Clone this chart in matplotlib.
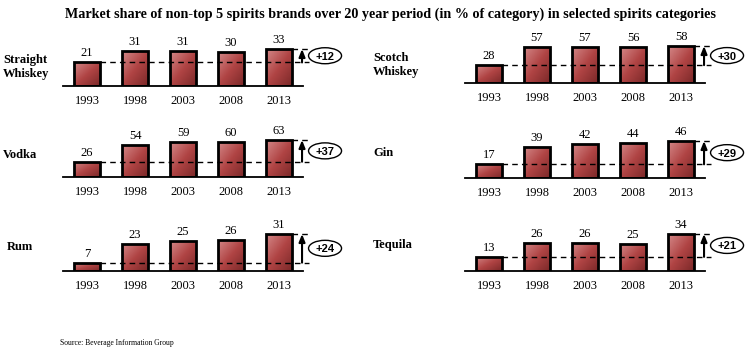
import numpy as np
import matplotlib.pyplot as plt
from matplotlib.colors import LinearSegmentedColormap
from matplotlib.patches import Ellipse
from matplotlib.transforms import IdentityTransform

years = ['1993', '1998', '2003', '2008', '2013']
straight_whiskey = [21, 31, 31, 30, 33]
scotch_whiskey = [28, 57, 57, 56, 58]
vodka = [26, 54, 59, 60, 63]
gin = [17, 39, 42, 44, 46]
rum = [7, 23, 25, 26, 31]
tequila = [13, 26, 26, 25, 34]

W, H = 747, 359
fig = plt.figure(figsize=(W / 100, H / 100), dpi=100)
serif = 'Liberation Serif'

bar_cmap = LinearSegmentedColormap.from_list('bar', ['#d48888', '#b04444', '#7a2828'])

# (label, values, axes left px, baseline px, label x px, label y px)
panels = [
    ('Straight\nWhiskey', straight_whiskey, 63, 86, 3, 67),
    ('Scotch\nWhiskey', scotch_whiskey, 465, 83, 373, 65),
    ('Vodka', vodka, 63, 177, 3, 155),
    ('Gin', gin, 465, 178, 373, 153),
    ('Rum', rum, 63, 271, 7, 247),
    ('Tequila', tequila, 465, 271, 373, 245),
]

ax_w, ax_h, max_h = 240, 50, 37
bw = 0.56
grad = np.add.outer(np.linspace(0, 1, 40), np.linspace(0, 1, 40)) / 2

for name, vals, left, base, lx, ly in panels:
    ax = fig.add_axes([left / W, (H - base) / H, ax_w / W, ax_h / H])
    ymax = max(vals) * ax_h / max_h
    ax.axis('off')
    x = np.arange(len(vals))
    bars = ax.bar(x, vals, width=bw, facecolor='none', edgecolor='black',
                  linewidth=2, zorder=3)
    for b in bars:
        x0, y0 = b.get_x(), b.get_y()
        im = ax.imshow(grad, extent=[x0, x0 + b.get_width(), y0, y0 + b.get_height()],
                       origin='upper', cmap=bar_cmap, aspect='auto', zorder=2)
        im.set_clip_path(b)
    ax.set_xlim(-0.5, 4.5)
    ax.set_ylim(0, ymax)
    for i, v in enumerate(vals):
        ax.annotate(str(v), (i, v), xytext=(0, 3), textcoords='offset pixels',
                    ha='center', va='bottom', fontsize=9, family=serif)
        ax.annotate(years[i], (i, 0), xytext=(0, -15), textcoords='offset pixels',
                    ha='center', va='center', fontsize=9, family=serif,
                    annotation_clip=False)
    v0, v1 = vals[0], vals[-1]
    ax.plot([bw / 2, 4.63], [v0, v0], color='black', lw=1, ls=(0, (4, 3)),
            clip_on=False, zorder=4)
    ax.plot([4 + bw / 2, 4.63], [v1, v1], color='black', lw=1, ls=(0, (4, 3)),
            clip_on=False, zorder=4)
    ax.annotate('', xy=(4.48, v1), xytext=(4.48, v0),
                arrowprops=dict(arrowstyle='-|>,head_length=0.45,head_width=0.18',
                                color='black', lw=1.5, mutation_scale=10,
                                shrinkA=0, shrinkB=0),
                annotation_clip=False)
    # circled difference, sized in pixels
    px, py = ax.transData.transform((4.48, (v0 + v1) / 2))
    ax.add_artist(Ellipse((px + 23, py), 33, 16, transform=IdentityTransform(),
                          fc='white', ec='black', lw=1, zorder=6, clip_on=False))
    ax.annotate(f'+{v1 - v0}', (4.48, (v0 + v1) / 2), xytext=(23, 0),
                textcoords='offset pixels', ha='center', va='center_baseline',
                fontsize=8, fontweight='bold', family='Liberation Sans',
                annotation_clip=False, zorder=7)
    ax.plot([-0.5, 4.5], [0, 0], color='black', lw=1.3, clip_on=False, zorder=5)
    fig.text(lx / W, 1 - ly / H, name, ha='left', va='center', fontsize=9,
             fontweight='bold', family=serif, linespacing=1.3)

fig.text(65 / W, 1 - 14 / H,
         'Market share of non-top 5 spirits brands over 20 year period '
         '(in % of category) in selected spirits categories',
         ha='left', va='center', fontsize=10.2, fontweight='bold', family=serif)
fig.text(60 / W, 1 - 343 / H, 'Source: Beverage Information Group',
         ha='left', va='center', fontsize=5.5, family=serif)

fig.savefig('out.png', dpi=100)
